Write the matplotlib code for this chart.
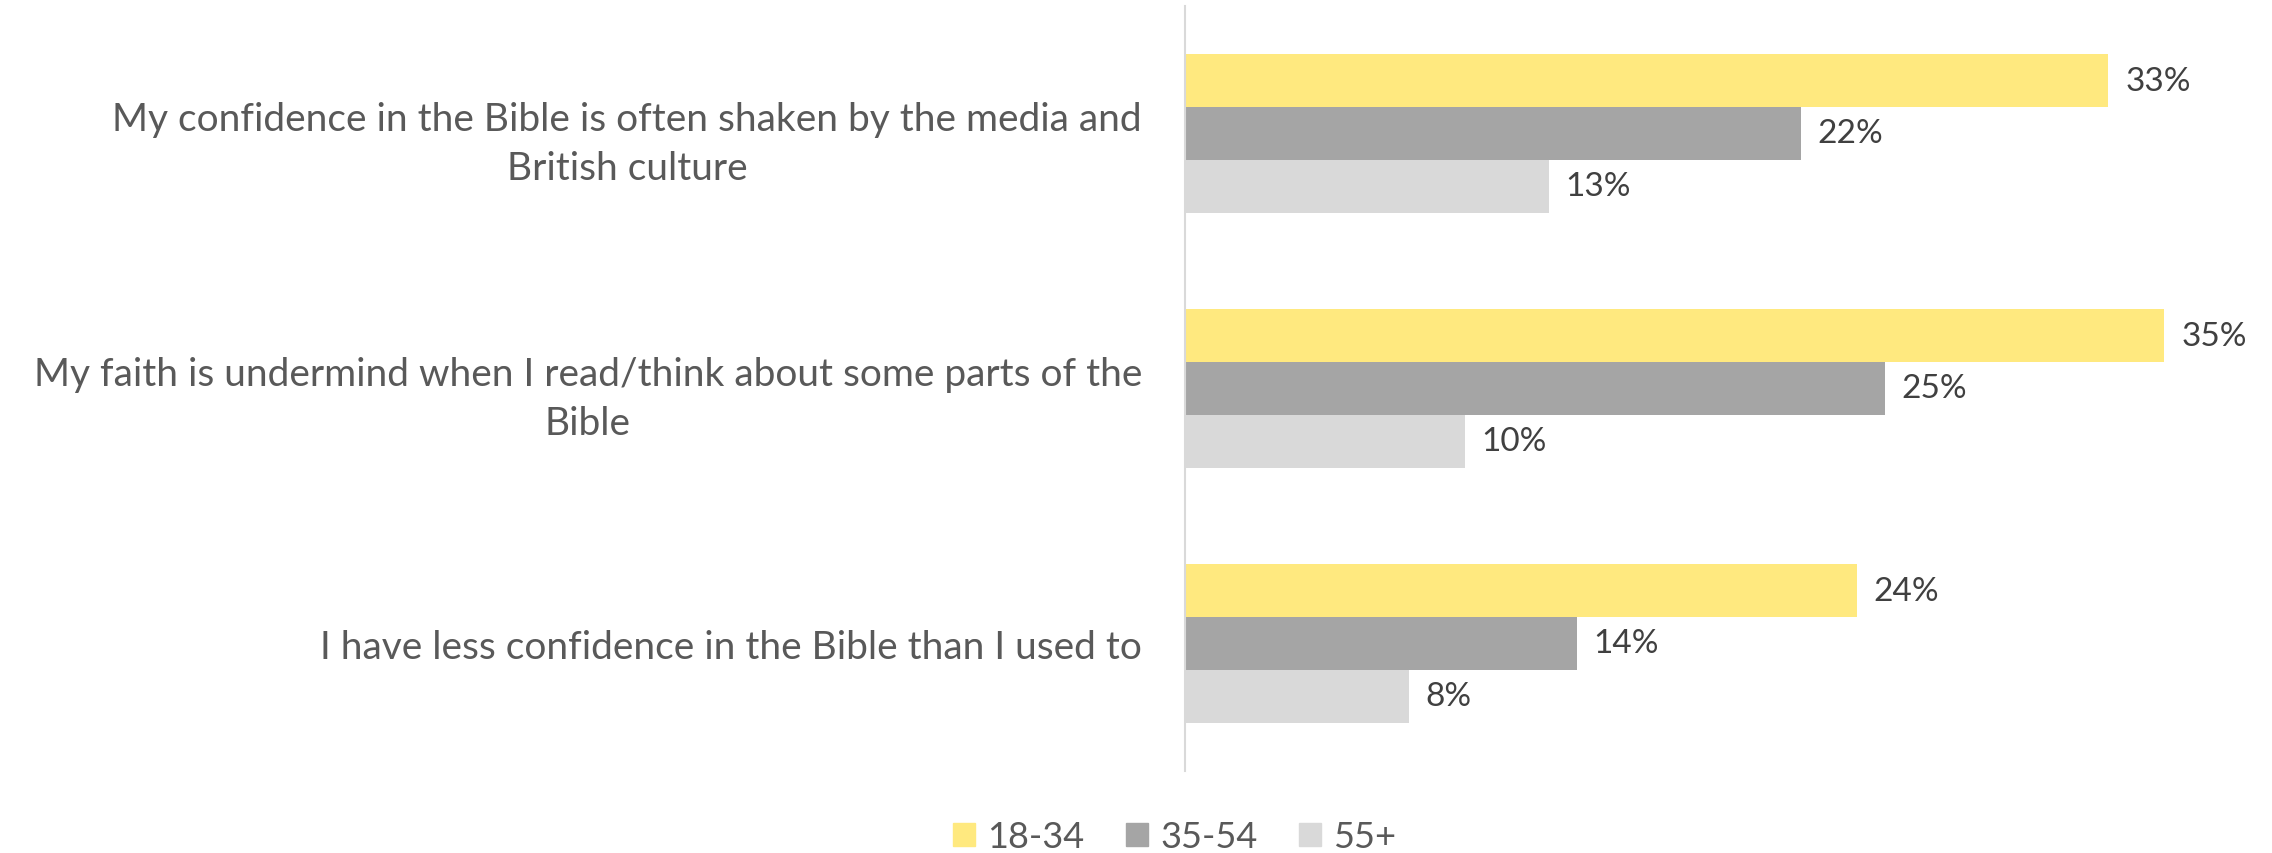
import numpy as np
import matplotlib.pyplot as plt
from matplotlib.patches import Patch

plt.rcParams['font.family'] = ['Lato', 'DejaVu Sans']

categories = ["My confidence in the Bible is often shaken by the media and\nBritish culture",
              "My faith is undermind when I read/think about some parts of the\nBible",
              "I have less confidence in the Bible than I used to"]
groups = ["18-34", "35-54", "55+"]
age_18_34 = [0.33, 0.35, 0.24]
age_35_54 = [0.22, 0.25, 0.14]
age_55_plus = [0.13, 0.10, 0.08]

series = [age_18_34, age_35_54, age_55_plus]
colors = ["#FFE97F", "#A5A5A5", "#D9D9D9"]

fig = plt.figure(figsize=(22.72, 8.54), dpi=100)
ax = fig.add_axes([0.5216, 0.096, 0.468, 0.896])

h = 0.207
y = np.arange(len(categories))
for i, (vals, c) in enumerate(zip(series, colors)):
    pos = y + (i - 1) * h
    ax.barh(pos, vals, height=h, color=c)
    for p, v in zip(pos, vals):
        ax.text(v + 0.006, p, f"{v:.0%}", va='center', ha='left',
                fontsize=24, color='#404040')

ax.set_xlim(0, 0.38)
ax.set_ylim(len(categories) - 0.5, -0.5)
ax.set_yticks(y)
ax.set_yticklabels(categories, fontsize=28, color='#595959', linespacing=1.45)
ax.tick_params(axis='y', length=0, pad=31)
ax.set_xticks([])
for s in ['top', 'right', 'bottom']:
    ax.spines[s].set_visible(False)
ax.spines['left'].set_color('#D9D9D9')
ax.spines['left'].set_linewidth(1.5)
for lbl in ax.get_yticklabels():
    lbl.set_horizontalalignment('right')
    lbl.set_multialignment('center')

handles = [Patch(color=c, label=g) for c, g in zip(colors, groups)]
fig.legend(handles=handles, loc='center', bbox_to_anchor=(0.517, 0.019), ncol=3,
           frameon=False, fontsize=26, labelcolor='#595959',
           handlelength=0.6, handleheight=0.6, handletextpad=0.35, columnspacing=1.15)

fig.savefig("out.png", dpi=100)
